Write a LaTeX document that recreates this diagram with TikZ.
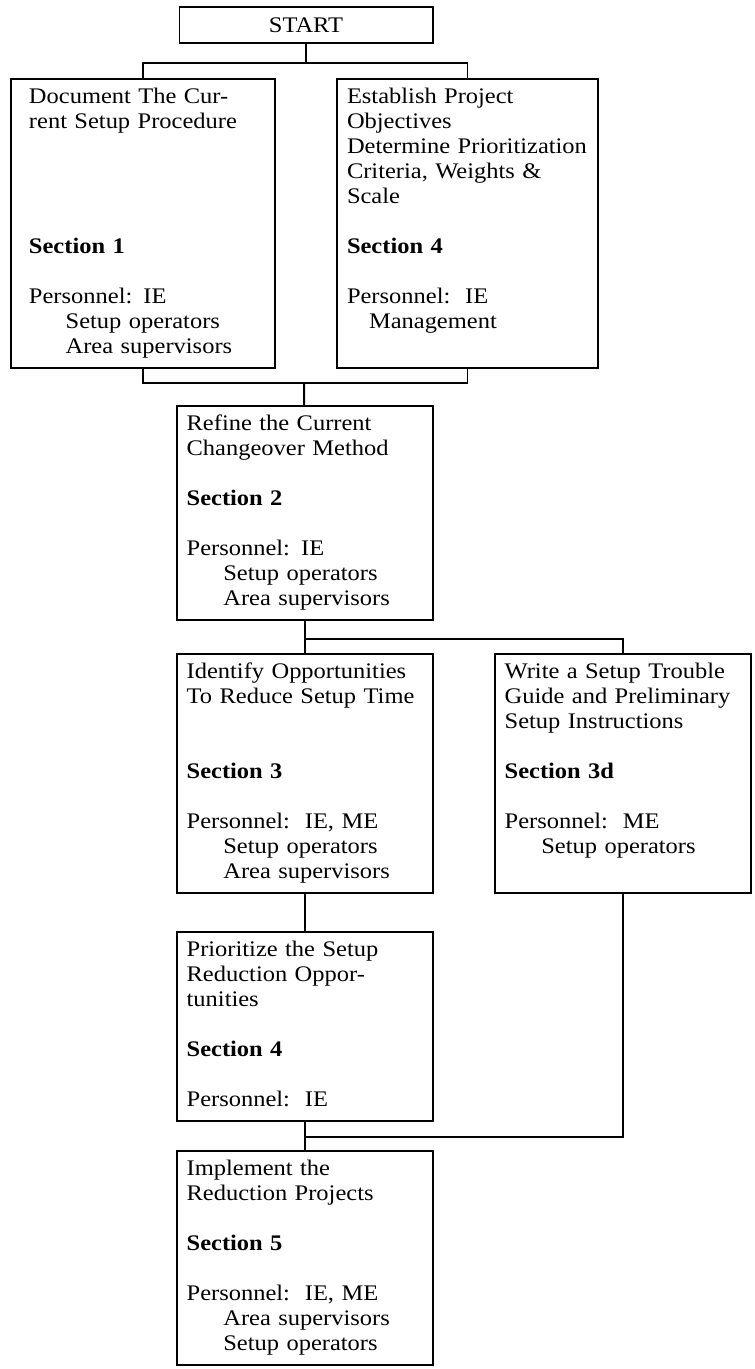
\documentclass[tikz,border=0pt]{standalone}
\usepackage{fontspec}
\setmainfont[FakeStretch=1.1]{Liberation Serif}
\usetikzlibrary{positioning, calc}

\begin{document}
\begin{tikzpicture}[
  font=\fontsize{19pt}{21.3pt}\selectfont,
  box/.style={draw, line width=1.7pt, anchor=north west, align=left, text width=7.1cm, inner xsep=0.29cm, inner ysep=0.22cm, execute at begin node=\strut, execute at end node=\strut},
  startbox/.style={draw, line width=1.7pt, minimum width=7.59cm, minimum height=1.08cm},
  link/.style={line width=1.7pt}
]
  \useasboundingbox (0,0) rectangle (22.62,-41.07);

  \node[startbox] (start) at (9.18,-0.75) {START};

  % Sections 1 and 4
  \node[box, text width=6.84cm, inner xsep=0.54cm] (docu) at (0.3,-2.34) {Document The Cur-\\rent Setup Procedure\\~\\~\\~\\~\\\textbf{Section 1}\\~\\Personnel: IE\\\hspace*{1.1cm}Setup operators\\\hspace*{1.1cm}Area supervisors};
  \node[box, text width=7.23cm, inner xsep=0.3cm] (obj) at (10.08,-2.34) {Establish Project\\Objectives\\Determine Prioritization\\Criteria, Weights \&\\Scale\\~\\\textbf{Section 4}\\~\\Personnel:\ \ IE\\\hspace*{0.66cm}Management\\~};

  % Section 2
  \node[box] (refine) at (5.28,-12.15) {Refine the Current\\Changeover Method\\~\\\textbf{Section 2}\\~\\Personnel: IE\\\hspace*{1.1cm}Setup operators\\\hspace*{1.1cm}Area supervisors};

  % Sections 3 and 3d
  \node[box] (identify) at (5.28,-19.59) {Identify Opportunities\\To Reduce Setup Time\\~\\~\\\textbf{Section 3}\\~\\Personnel:\ \ IE, ME\\\hspace*{1.1cm}Setup operators\\\hspace*{1.1cm}Area supervisors};
  \node[box] (guide) at (14.82,-19.59) {Write a Setup Trouble\\Guide and Preliminary\\Setup Instructions\\~\\\textbf{Section 3d}\\~\\Personnel:\ \ ME\\\hspace*{1.1cm}Setup operators\\~};

  % Section 4
  \node[box] (prior) at (5.28,-27.93) {Prioritize the Setup\\Reduction Oppor-\\tunities\\~\\\textbf{Section 4}\\~\\Personnel:\ \ IE};

  % Section 5
  \node[box] (impl) at (5.28,-34.5) {Implement the\\Reduction Projects\\~\\\textbf{Section 5}\\~\\Personnel:\ \ IE, ME\\\hspace*{1.1cm}Area supervisors\\\hspace*{1.1cm}Setup operators};

  % Connectors
  \coordinate (topbar) at (9.18,-1.89);
  \coordinate (botbar) at (9.12,-11.49);
  \coordinate (split)  at (9.12,-19.17);
  \coordinate (merge)  at (9.12,-34.11);

  \draw[link] (start) -- (topbar);
  \draw[link] (docu.north) |- (topbar) -| (obj.north);
  \draw[link] (docu.south) |- (botbar) -| (obj.south);
  \draw[link] (botbar) -- (refine);
  \draw[link] (refine) -- (identify);
  \draw[link] (split) -| (guide.north);
  \draw[link] (identify) -- (prior);
  \draw[link] (prior) -- (impl);
  \draw[link] (guide.south) |- (merge);
\end{tikzpicture}
\end{document}
